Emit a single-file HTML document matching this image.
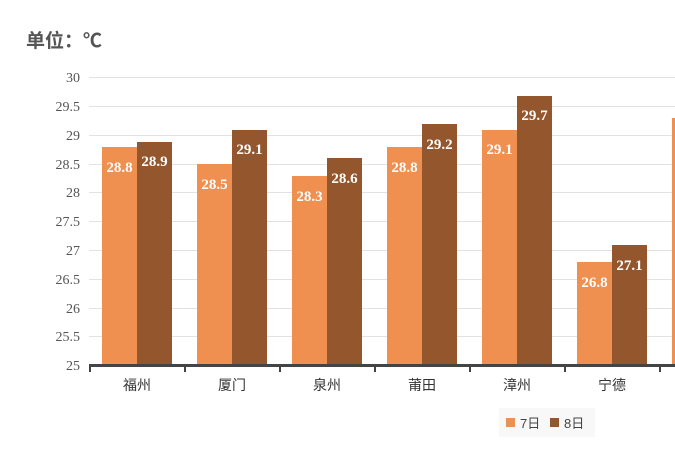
<!DOCTYPE html>
<html><head><meta charset="utf-8"><style>
body{margin:0;background:#fff;width:675px;height:447px;overflow:hidden}
.s{font-family:"Liberation Sans","Noto Sans CJK SC",sans-serif}
.r{font-family:"Liberation Serif","Noto Serif CJK SC",serif}
</style></head><body>
<svg width="675" height="447" xmlns="http://www.w3.org/2000/svg">
<text class="s" x="26" y="47" font-size="19" font-weight="bold" fill="#555">单位：℃</text>
<g stroke="#e2e2e2" stroke-width="1">
<line x1="89" x2="675" y1="77.5" y2="77.5"/><line x1="89" x2="675" y1="106.5" y2="106.5"/>
<line x1="89" x2="675" y1="135.5" y2="135.5"/><line x1="89" x2="675" y1="164.5" y2="164.5"/>
<line x1="89" x2="675" y1="192.5" y2="192.5"/><line x1="89" x2="675" y1="221.5" y2="221.5"/>
<line x1="89" x2="675" y1="250.5" y2="250.5"/><line x1="89" x2="675" y1="279.5" y2="279.5"/>
<line x1="89" x2="675" y1="308.5" y2="308.5"/><line x1="89" x2="675" y1="336.5" y2="336.5"/>
</g>
<g class="r" font-size="14" fill="#555" text-anchor="end">
<text x="80" y="82">30</text><text x="80" y="111">29.5</text><text x="80" y="140">29</text>
<text x="80" y="169">28.5</text><text x="80" y="197">28</text><text x="80" y="226">27.5</text>
<text x="80" y="255">27</text><text x="80" y="284">26.5</text><text x="80" y="313">26</text>
<text x="80" y="341">25.5</text><text x="80" y="370">25</text>
</g>
<g>
<rect x="102" y="147" width="35" height="218" fill="#ef8f50"/><rect x="137" y="142" width="35" height="223" fill="#93562d"/>
<rect x="197" y="164" width="35" height="201" fill="#ef8f50"/><rect x="232" y="130" width="35" height="235" fill="#93562d"/>
<rect x="292" y="176" width="35" height="189" fill="#ef8f50"/><rect x="327" y="158" width="35" height="207" fill="#93562d"/>
<rect x="387" y="147" width="35" height="218" fill="#ef8f50"/><rect x="422" y="124" width="35" height="241" fill="#93562d"/>
<rect x="482" y="130" width="35" height="235" fill="#ef8f50"/><rect x="517" y="96" width="35" height="269" fill="#93562d"/>
<rect x="577" y="262" width="35" height="103" fill="#ef8f50"/><rect x="612" y="245" width="35" height="120" fill="#93562d"/>
<rect x="672" y="118" width="35" height="247" fill="#ef8f50"/>
</g>
<g class="r" font-size="15" font-weight="bold" fill="#fff" text-anchor="middle">
<text x="119.5" y="172">28.8</text><text x="154.5" y="166">28.9</text>
<text x="214.5" y="189">28.5</text><text x="249.5" y="154">29.1</text>
<text x="309.5" y="201">28.3</text><text x="344.5" y="183">28.6</text>
<text x="404.5" y="172">28.8</text><text x="439.5" y="149">29.2</text>
<text x="499.5" y="154">29.1</text><text x="534.5" y="120">29.7</text>
<text x="594.5" y="287">26.8</text><text x="629.5" y="270">27.1</text>
</g>
<rect x="89" y="364" width="586" height="3" fill="#444"/>
<g fill="#444">
<rect x="89" y="364" width="2" height="8"/><rect x="184" y="364" width="2" height="8"/>
<rect x="279" y="364" width="2" height="8"/><rect x="374" y="364" width="2" height="8"/>
<rect x="469" y="364" width="2" height="8"/><rect x="564" y="364" width="2" height="8"/>
<rect x="659" y="364" width="2" height="8"/>
</g>
<g class="s" font-size="14" fill="#333" text-anchor="middle">
<text x="137" y="390">福州</text><text x="232" y="390">厦门</text><text x="327" y="390">泉州</text>
<text x="422" y="390">莆田</text><text x="517" y="390">漳州</text><text x="612" y="390">宁德</text>
</g>
<rect x="499" y="408" width="96" height="29" fill="#f8f8f8"/>
<rect x="506" y="418" width="9" height="9" fill="#ef8f50"/>
<text class="s" x="520" y="428" font-size="13" fill="#444">7日</text>
<rect x="550" y="418" width="9" height="9" fill="#93562d"/>
<text class="s" x="564" y="428" font-size="13" fill="#444">8日</text>
</svg>
</body></html>
